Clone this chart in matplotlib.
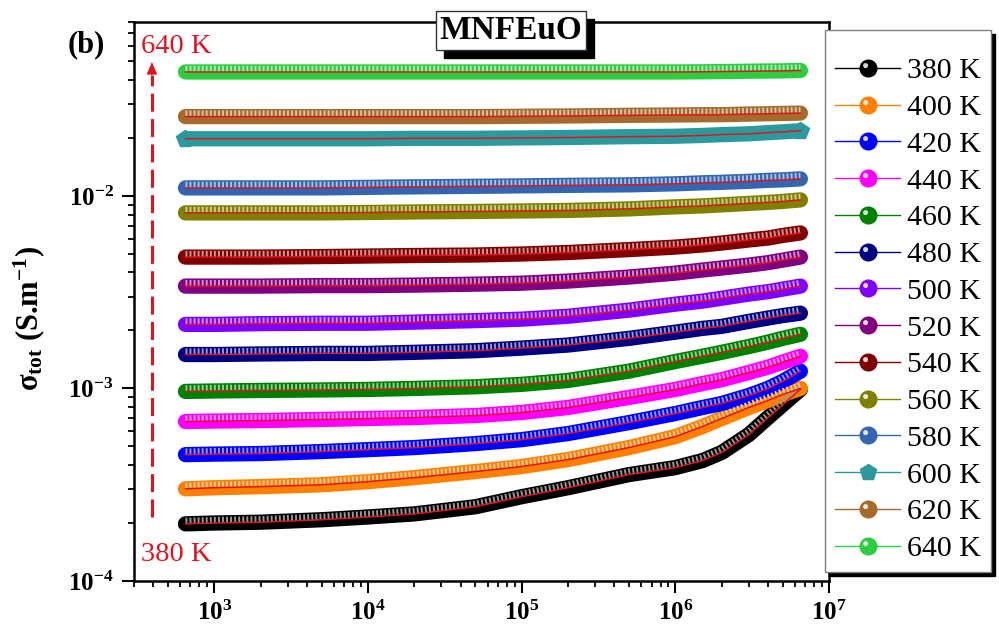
import numpy as np
import matplotlib
matplotlib.use("Agg")
import matplotlib.pyplot as plt
from matplotlib.lines import Line2D
from matplotlib.path import Path
from matplotlib.transforms import offset_copy
from matplotlib.legend_handler import HandlerTuple
from matplotlib.colors import to_rgb

plt.rcParams["font.family"] = ["Liberation Serif", "DejaVu Serif"]
plt.rcParams["mathtext.default"] = "regular"

# frequency grid (Hz) and total conductivity (S/m) per temperature
freq = [650, 1e3, 2e3, 5e3, 1e4, 2e4, 5e4, 1e5, 2e5, 5e5, 1e6, 1.5e6, 2e6, 3e6, 4e6, 5e6, 6.5e6]

sig_380 = [1.98e-4, 2.00e-4, 2.02e-4, 2.08e-4, 2.15e-4, 2.23e-4, 2.43e-4, 2.74e-4, 3.05e-4,
           3.57e-4, 3.88e-4, 4.22e-4, 4.65e-4, 5.76e-4, 7.06e-4, 8.25e-4, 9.88e-4]
sig_400 = [3.01e-4, 3.05e-4, 3.09e-4, 3.16e-4, 3.28e-4, 3.44e-4, 3.70e-4, 3.93e-4, 4.27e-4,
           4.93e-4, 5.62e-4, 6.34e-4, 6.98e-4, 7.96e-4, 8.66e-4, 9.31e-4, 1.00e-3]
sig_420 = [4.53e-4, 4.56e-4, 4.59e-4, 4.70e-4, 4.81e-4, 4.93e-4, 5.17e-4, 5.42e-4, 5.83e-4,
           6.65e-4, 7.41e-4, 7.96e-4, 8.35e-4, 9.19e-4, 1.00e-3, 1.09e-3, 1.23e-3]
sig_440 = [6.73e-4, 6.77e-4, 6.81e-4, 6.90e-4, 6.98e-4, 7.06e-4, 7.23e-4, 7.50e-4, 7.96e-4,
           8.98e-4, 9.88e-4, 1.06e-3, 1.11e-3, 1.21e-3, 1.29e-3, 1.37e-3, 1.47e-3]
sig_460 = [9.65e-4, 9.70e-4, 9.76e-4, 9.82e-4, 9.88e-4, 1.00e-3, 1.02e-3, 1.05e-3, 1.10e-3,
           1.23e-3, 1.38e-3, 1.47e-3, 1.54e-3, 1.65e-3, 1.74e-3, 1.82e-3, 1.91e-3]
sig_480 = [1.50e-3, 1.50e-3, 1.51e-3, 1.52e-3, 1.52e-3, 1.54e-3, 1.57e-3, 1.62e-3, 1.68e-3,
           1.82e-3, 1.96e-3, 2.05e-3, 2.10e-3, 2.23e-3, 2.32e-3, 2.39e-3, 2.46e-3]
sig_500 = [2.15e-3, 2.15e-3, 2.17e-3, 2.18e-3, 2.18e-3, 2.21e-3, 2.25e-3, 2.29e-3, 2.37e-3,
           2.55e-3, 2.74e-3, 2.84e-3, 2.94e-3, 3.09e-3, 3.18e-3, 3.28e-3, 3.40e-3]
sig_520 = [3.40e-3, 3.40e-3, 3.40e-3, 3.42e-3, 3.42e-3, 3.44e-3, 3.48e-3, 3.52e-3, 3.61e-3,
           3.79e-3, 3.97e-3, 4.12e-3, 4.22e-3, 4.37e-3, 4.50e-3, 4.64e-3, 4.81e-3]
sig_540 = [4.81e-3, 4.81e-3, 4.81e-3, 4.84e-3, 4.87e-3, 4.90e-3, 4.93e-3, 4.99e-3, 5.08e-3,
           5.26e-3, 5.42e-3, 5.56e-3, 5.69e-3, 5.90e-3, 6.04e-3, 6.23e-3, 6.42e-3]
sig_560 = [8.16e-3, 8.16e-3, 8.16e-3, 8.16e-3, 8.20e-3, 8.25e-3, 8.30e-3, 8.35e-3, 8.40e-3,
           8.56e-3, 8.77e-3, 8.87e-3, 8.98e-3, 9.14e-3, 9.25e-3, 9.36e-3, 9.53e-3]
sig_580 = [1.100e-2, 1.100e-2, 1.100e-2, 1.100e-2, 1.107e-2, 1.114e-2, 1.121e-2, 1.127e-2, 1.134e-2,
           1.141e-2, 1.155e-2, 1.169e-2, 1.176e-2, 1.190e-2, 1.204e-2, 1.211e-2, 1.226e-2]
sig_600 = [1.98e-2, 1.98e-2, 1.98e-2, 1.98e-2, 1.98e-2, 1.99e-2, 1.99e-2, 2.00e-2, 2.01e-2,
           2.03e-2, 2.04e-2, 2.06e-2, 2.08e-2, 2.10e-2, 2.13e-2, 2.15e-2, 2.18e-2]
sig_620 = [2.58e-2, 2.58e-2, 2.58e-2, 2.58e-2, 2.58e-2, 2.58e-2, 2.58e-2, 2.59e-2, 2.60e-2,
           2.62e-2, 2.63e-2, 2.64e-2, 2.64e-2, 2.66e-2, 2.67e-2, 2.68e-2, 2.69e-2]
sig_640 = [4.40e-2, 4.40e-2, 4.40e-2, 4.40e-2, 4.40e-2, 4.40e-2, 4.40e-2, 4.40e-2, 4.40e-2,
           4.40e-2, 4.40e-2, 4.41e-2, 4.42e-2, 4.44e-2, 4.45e-2, 4.46e-2, 4.48e-2]

temps = ["380 K", "400 K", "420 K", "440 K", "460 K", "480 K", "500 K",
         "520 K", "540 K", "560 K", "580 K", "600 K", "620 K", "640 K"]
sigmas = [sig_380, sig_400, sig_420, sig_440, sig_460, sig_480, sig_500,
          sig_520, sig_540, sig_560, sig_580, sig_600, sig_620, sig_640]
colors = ["#000000", "#FF8000", "#0000FF", "#FF00FF", "#008000", "#000080", "#8000FF",
          "#800080", "#800000", "#808000", "#3465B0", "#2A9A9E", "#A66A2C", "#2ECC40"]
markers = ["o"] * 11 + ["p"] + ["o"] * 2

FIT_RED = "#E0141E"


def lighten(c, amt):
    r, g, b = to_rgb(c)
    return (r + (1 - r) * amt, g + (1 - g) * amt, b + (1 - b) * amt)


# small off-centre disc used as the glossy highlight on the sphere markers
theta = np.linspace(0, 2 * np.pi, 40)
hl_verts = np.column_stack([-0.175 + 0.15 * np.cos(theta), 0.175 + 0.15 * np.sin(theta)])
highlight = Path(hl_verts, closed=True)

fig = plt.figure(figsize=(9.99, 6.39), dpi=100)
ax = fig.add_axes([0.134, 0.0908, 0.696, 0.8748])

stripe_tr = offset_copy(ax.transData, fig=fig, x=0, y=3, units="dots")

for lab, s, c, m in zip(temps, sigmas, colors, markers):
    if m == "o":
        ax.plot(freq, s, color=c, lw=11, solid_capstyle="round", solid_joinstyle="round", zorder=2)
        ax.plot(freq, s, color=lighten(c, 0.6), lw=4.5, dashes=(0.3, 0.35),
                transform=stripe_tr, zorder=3)
    else:
        ax.plot(freq, s, color=c, lw=11, solid_capstyle="butt", marker="p",
                markevery=[0, len(freq) - 1], ms=13, zorder=2)
    ax.plot(freq, s, color=FIT_RED, lw=1.1, zorder=4)

ax.set_xscale("log")
ax.set_yscale("log")
ax.set_xlim(300, 1e7)
ax.set_ylim(1e-4, 0.08)

for sp in ax.spines.values():
    sp.set_linewidth(1.8)
ax.tick_params(which="major", direction="out", length=8.5, width=1.5, labelsize=18, pad=6)
ax.tick_params(which="minor", direction="out", length=4.5, width=1.3)
ax.tick_params(axis="y", which="minor", labelleft=False)
for t in ax.get_xticklabels() + ax.get_yticklabels():
    t.set_fontweight("bold")

ax.set_ylabel(r"σ$_{\mathdefault{tot}}$ (S.m$^{\mathdefault{-1}}$)", fontsize=22,
              fontweight="bold")
ax.yaxis.set_label_coords(-0.125, 0.47)

# temperature direction arrow
ax.plot([0.026, 0.026], [0.1145, 0.905], transform=ax.transAxes, color=FIT_RED,
        lw=2.2, dashes=(5.9, 2.4), zorder=5)
ax.annotate("", xy=(0.026, 0.933), xytext=(0.026, 0.90), xycoords="axes fraction",
            arrowprops=dict(arrowstyle="-|>,head_length=0.8,head_width=0.35",
                            color=FIT_RED, lw=0.5))
ax.text(0.061, 0.957, "640 K", transform=ax.transAxes, color=FIT_RED, fontsize=20.5,
        ha="center", va="center")
ax.text(0.061, 0.047, "380 K", transform=ax.transAxes, color=FIT_RED, fontsize=20.5,
        ha="center", va="center")

# sample name box with a hard drop shadow
shadow_tr = offset_copy(fig.transFigure, fig=fig, x=8, y=-8, units="dots")
fig.text(0.5115, 0.9515, "MNFEuO", transform=shadow_tr, fontsize=24, fontweight="bold",
         ha="center", va="center", color="black",
         bbox=dict(boxstyle="square,pad=0.12", fc="black", ec="black"))
fig.text(0.5115, 0.9515, "MNFEuO", fontsize=24, fontweight="bold", ha="center",
         va="center", bbox=dict(boxstyle="square,pad=0.12", fc="white", ec="#333333", lw=1))

fig.text(0.086, 0.93, "(b)", fontsize=22, fontweight="bold", ha="center", va="center")

handles = []
for c, m in zip(colors, markers):
    base = Line2D([], [], color=c, lw=1.0, marker=m, ms=12, mfc=c, mec=c)
    if m == "o":
        shine = Line2D([], [], ls="none", marker=highlight, ms=12 * 0.65,
                       mfc=(1, 1, 1, 0.85), mec="none")
        handles.append((base, shine))
    else:
        handles.append((base,))

fig.legend(handles, temps, loc="upper left", bbox_to_anchor=(0.826, 0.953),
           borderaxespad=0, fontsize=21.5, handlelength=2.2, handletextpad=0.22,
           labelspacing=0.33, borderpad=0.32, frameon=True, fancybox=False,
           title=" ", title_fontsize=6,
           edgecolor="#808080", framealpha=1,
           shadow={"ox": 3, "oy": -3, "color": "black", "alpha": 1},
           handler_map={tuple: HandlerTuple(ndivide=1, pad=0)})

plt.savefig("out.png", dpi=100)
plt.close()
